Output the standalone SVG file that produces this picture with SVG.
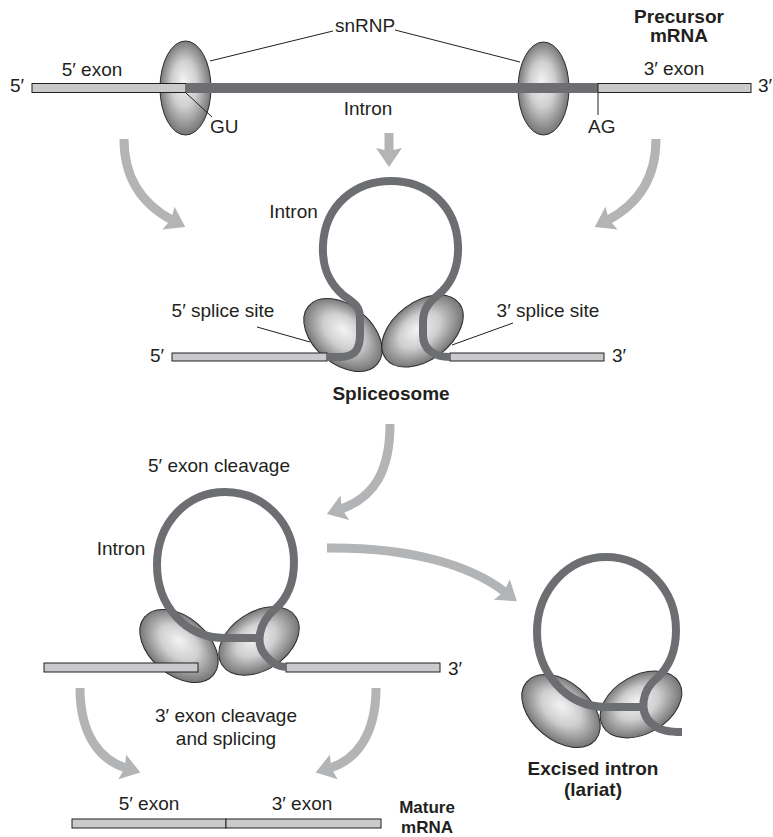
<svg xmlns="http://www.w3.org/2000/svg" width="773" height="837" viewBox="0 0 773 837">
  <style>
    text { font-family: "Liberation Sans", Arial, Helvetica, sans-serif; font-size: 19px; fill: #231f20; }
    .b { font-weight: bold; }
    .m { text-anchor: middle; }
    .exon { fill: #c9cacc; stroke: #231f20; stroke-width: 1; }
    .intronbar { fill: #6d6e71; }
    .intron { fill: none; stroke: #6d6e71; stroke-width: 8; stroke-linejoin: round; }
    .snrnp { fill: url(#snrnpShade); stroke: #2b2b2b; stroke-width: 1; }
    .lead { fill: none; stroke: #231f20; stroke-width: 1; }
    .arrow { fill: none; stroke: #b3b4b6; stroke-width: 9; marker-end: url(#head); }
  </style>
  <defs>
    <radialGradient id="snrnpShade" cx="50%" cy="50%" r="55%" fx="46%" fy="42%">
      <stop offset="0" stop-color="#f3f3f3"/>
      <stop offset="0.45" stop-color="#cfcfcf"/>
      <stop offset="1" stop-color="#666666"/>
    </radialGradient>
    <marker id="head" markerUnits="userSpaceOnUse" markerWidth="30" markerHeight="30" viewBox="-2 -15 24 30" refX="4" refY="0" orient="auto">
      <path d="M0,-13 L19,0 L0,13 L3,0 Z" fill="#b3b4b6"/>
    </marker>
  </defs>

  <!-- connectors: process arrows between stages -->
  <g id="arrows">
    <path class="arrow" d="M124 139 C124 175 140 203 172 220"/>
    <path class="arrow" d="M389 133 L389 152"/>
    <path class="arrow" d="M656 139 C656 175 640 203 608 220"/>
    <path class="arrow" d="M390 424 C390 470 375 497 341 509"/>
    <path class="arrow" d="M327 548 C410 547 470 565 505 592"/>
    <path class="arrow" d="M80 688 C80 735 100 760 126 768"/>
    <path class="arrow" d="M376 688 C376 735 356 760 330 768"/>
  </g>

  <!-- precursor mRNA with two bound snRNPs -->
  <g id="precursor">
    <ellipse class="snrnp" cx="185.5" cy="88" rx="25.5" ry="47"/>
    <ellipse class="snrnp" cx="543.5" cy="88.5" rx="25.5" ry="46.5"/>
    <rect class="exon" x="32" y="83.5" width="154" height="9"/>
    <rect class="intronbar" x="186" y="83" width="412" height="10"/>
    <rect class="exon" x="598" y="83.5" width="153" height="9"/>
    <path class="lead" d="M333 31 L210 61 M395 30 L520 62 M186 93 L212 117 M598 93 L598 115"/>
    <text x="10" y="92">5′</text>
    <text class="m" x="92" y="76">5′ exon</text>
    <text class="m" x="365" y="32">snRNP</text>
    <text x="210" y="133">GU</text>
    <text class="m" x="368" y="115">Intron</text>
    <text x="588" y="133">AG</text>
    <text class="m" x="674" y="75">3′ exon</text>
    <text x="758" y="92">3′</text>
    <text class="b m" x="679" y="23">Precursor</text>
    <text class="b m" x="679" y="42">mRNA</text>
  </g>

  <!-- assembled spliceosome -->
  <g id="spliceosome">
    <ellipse class="snrnp" cx="343" cy="335" rx="45" ry="29" transform="rotate(40 343 335)"/>
    <ellipse class="snrnp" cx="422.5" cy="331" rx="46" ry="29" transform="rotate(-37 422.5 331)"/>
    <rect class="exon" x="172" y="353" width="155" height="8"/>
    <rect class="exon" x="450" y="353" width="154" height="8"/>
    <path class="intron" d="M327 357 L340 357 C354 357 360 350 360 335 L360 318 C360 305 352 302 343 295 C327 281 322 265 323 245 C325 205 355 181 391 181 C427 181 456 205 458 245 C459 270 450 285 438 295 C428 303 423 310 423 322 L423 335 C423 350 435 357 450 357"/>
    <path class="lead" d="M257 327 L310 342 M513 323 L452 345"/>
    <text class="m" x="293.5" y="218">Intron</text>
    <text class="m" x="223" y="317">5′ splice site</text>
    <text class="m" x="548" y="317">3′ splice site</text>
    <text x="150" y="362">5′</text>
    <text x="612" y="362">3′</text>
    <text class="b m" x="391" y="400">Spliceosome</text>
  </g>

  <!-- 5' exon cleavage: intron forms a lariat -->
  <g id="cleavage">
    <text class="m" x="219" y="472">5′ exon cleavage</text>
    <ellipse class="snrnp" cx="179" cy="646" rx="45" ry="29" transform="rotate(40 179 646)"/>
    <ellipse class="snrnp" cx="259" cy="641" rx="44" ry="29" transform="rotate(-33 259 641)"/>
    <rect class="exon" x="44" y="663" width="154" height="9"/>
    <rect class="exon" x="286" y="663" width="154" height="9"/>
    <path class="intron" d="M258 638 L225 638 C185 638 157 605 157 565 C157 522 188 492 225 492 C263 492 294 522 294 562 C294 585 286 600 274 610 C260 622 254 643 266 656 C272 663 279 667 286 667"/>
    <text class="m" x="121" y="555">Intron</text>
    <text x="448" y="675">3′</text>
  </g>

  <!-- released lariat -->
  <g id="lariat">
    <ellipse class="snrnp" cx="561" cy="711" rx="45" ry="29" transform="rotate(40 561 711)"/>
    <ellipse class="snrnp" cx="641" cy="704.5" rx="44" ry="29" transform="rotate(-30 641 704.5)"/>
    <path class="intron" d="M641 707 L606 707 C566 707 537 672 537 632 C537 590 568 557 606 557 C645 557 676 590 676 630 C676 652 668 668 657 678 C642 690 638 712 652 724 C660 731 670 732 682 732"/>
    <text class="b m" x="593" y="775">Excised intron</text>
    <text class="b m" x="593" y="796">(lariat)</text>
  </g>

  <!-- spliced product -->
  <g id="mature">
    <text class="m" x="226" y="722">3′ exon cleavage</text>
    <text class="m" x="226" y="745">and splicing</text>
    <text class="m" x="149" y="810">5′ exon</text>
    <text class="m" x="302" y="810">3′ exon</text>
    <rect class="exon" x="72" y="819" width="154" height="9"/>
    <rect class="exon" x="226" y="819" width="155" height="9"/>
    <text class="b m" x="427" y="813" style="font-size:17px">Mature</text>
    <text class="b m" x="427" y="833" style="font-size:17px">mRNA</text>
  </g>
</svg>
